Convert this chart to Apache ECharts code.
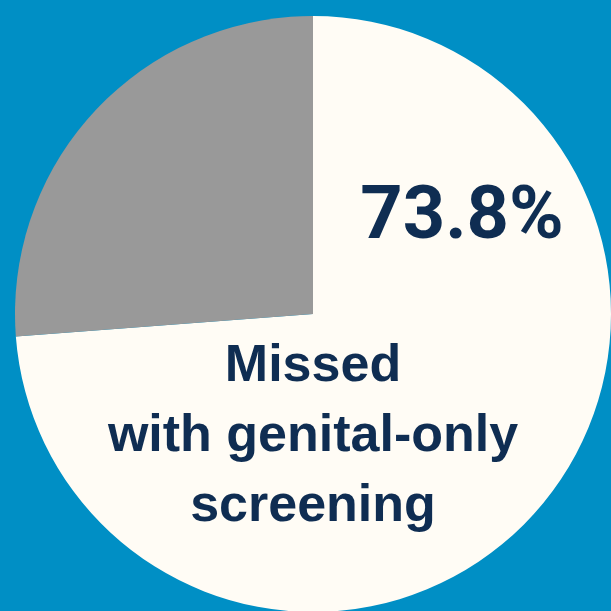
<!DOCTYPE html>
<html><head><meta charset="utf-8">
<script src="https://cdn.jsdelivr.net/npm/echarts@6/dist/echarts.min.js"></script>
<style>html,body{margin:0;padding:0;background:#008fc5;}#c{width:611px;height:611px;}</style>
</head><body><div id="c"></div>
<script>
const categories = ["Missed with genital-only screening", "Detected"];
const values = [73.8, 26.2];
const colors = ["#fffcf5", "#999999"];
const bigLabel = "73.8%";
const subLabel = ["Missed", "with genital-only", "screening"];

const chart = echarts.init(document.getElementById('c'), null, {renderer: 'canvas'});
chart.setOption({
  backgroundColor: '#008fc5',
  animation: false,
  series: [{
    type: 'pie',
    center: [313, 314],
    radius: [0, 298],
    startAngle: 90,
    clockwise: true,
    label: {show: false},
    labelLine: {show: false},
    emphasis: {disabled: true},
    itemStyle: {borderWidth: 0},
    data: categories.map((n, i) => ({name: n, value: values[i], itemStyle: {color: colors[i]}}))
  }],
  graphic: [
    {type: 'text', z: 100, x: 462, y: 219, style: {text: bigLabel, fill: '#0f2d52', fontWeight: 'bold', fontSize: 74, fontFamily: 'Roboto', align: 'center', verticalAlign: 'middle'}},
    {type: 'text', z: 100, x: 313, y: 437, style: {text: subLabel.join('\n'), fill: '#0f2d52', fontWeight: 'bold', fontSize: 52, fontFamily: 'Liberation Sans', lineHeight: 70, align: 'center', verticalAlign: 'middle'}}
  ]
});
</script></body></html>
